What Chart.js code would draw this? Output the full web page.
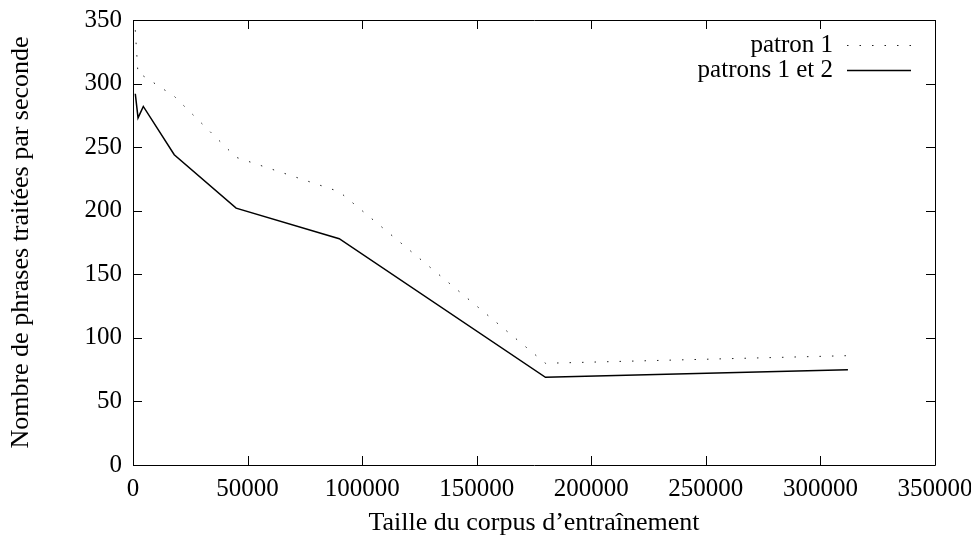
<!DOCTYPE html>
<html>
<head>
<meta charset="utf-8">
<script src="https://cdn.jsdelivr.net/npm/chart.js@4"></script>
<style>
  html, body { margin: 0; padding: 0; background: #fff; }
  #wrap { width: 971px; height: 535px; }
</style>
</head>
<body>
<div id="wrap"><canvas id="myChart" width="971" height="535"></canvas></div>
<script>
// training corpus sizes (x)
var sizes = [1000, 2200, 4500, 18000, 45000, 90000, 180000, 312000];
// sentences per second
var patron1 = [342, 307, 306, 290, 242, 215, 80, 86];
var patrons12 = [292, 273, 282, 244, 202, 178, 69, 75];

var seriesNames = ['patron 1', 'patrons 1 et 2'];
var xTicks = [0, 50000, 100000, 150000, 200000, 250000, 300000, 350000];
var yTicks = [0, 50, 100, 150, 200, 250, 300, 350];

var serif = '"Liberation Serif", "Times New Roman", serif';
var fontSize = 25;
var titleSize = 26;

var toPoints = function (xs, ys) {
    return xs.map(function (x, i) { return { x: x, y: ys[i] }; });
};

// frame with inward tick marks, gnuplot style
var framePlugin = {
    id: 'frame',
    afterDatasetsDraw: function (chart) {
        var ctx = chart.ctx;
        var a = chart.chartArea;
        var xs = chart.scales.x;
        var ys = chart.scales.y;
        var len = 9;
        ctx.save();
        ctx.strokeStyle = '#000';
        ctx.lineWidth = 1;
        ctx.beginPath();
        ctx.rect(Math.round(a.left) + 0.5, Math.round(a.top) + 0.5,
            Math.round(a.right - a.left), Math.round(a.bottom - a.top));
        xTicks.forEach(function (v) {
            var px = Math.round(xs.getPixelForValue(v)) + 0.5;
            ctx.moveTo(px, a.bottom); ctx.lineTo(px, a.bottom - len);
            ctx.moveTo(px, a.top); ctx.lineTo(px, a.top + len);
        });
        yTicks.forEach(function (v) {
            var py = Math.round(ys.getPixelForValue(v)) + 0.5;
            ctx.moveTo(a.left, py); ctx.lineTo(a.left + len, py);
            ctx.moveTo(a.right, py); ctx.lineTo(a.right - len, py);
        });
        ctx.stroke();

        // legend, top right inside the plot
        ctx.font = fontSize + 'px ' + serif;
        ctx.fillStyle = '#000';
        ctx.textAlign = 'right';
        ctx.textBaseline = 'middle';
        chart.data.datasets.forEach(function (ds, i) {
            var y = a.top + 25 + i * 25;
            ctx.fillText(ds.label, a.right - 102, y);
            ctx.beginPath();
            ctx.setLineDash(ds.borderDash || []);
            ctx.lineWidth = ds.borderWidth;
            ctx.strokeStyle = ds.borderColor;
            ctx.moveTo(a.right - 88, Math.round(y) + 0.5);
            ctx.lineTo(a.right - 24, Math.round(y) + 0.5);
            ctx.stroke();
        });
        ctx.restore();
    }
};

var ctx = document.getElementById('myChart').getContext('2d');

var chart = new Chart(ctx, {
    type: 'line',
    data: {
        datasets: [{
            label: seriesNames[0],
            data: toPoints(sizes, patron1),
            borderColor: '#222',
            borderWidth: 1,
            borderDash: [1.5, 11],
            pointRadius: 0,
            fill: false,
            tension: 0
        }, {
            label: seriesNames[1],
            data: toPoints(sizes, patrons12),
            borderColor: '#000',
            borderWidth: 1.5,
            pointRadius: 0,
            fill: false,
            tension: 0
        }]
    },
    options: {
        responsive: false,
        animation: false,
        layout: { padding: { top: 20, right: 36, left: 6, bottom: 0 } },
        plugins: {
            legend: { display: false },
            tooltip: { enabled: false }
        },
        scales: {
            x: {
                type: 'linear',
                min: 0,
                max: 350000,
                afterBuildTicks: function (scale) {
                    scale.ticks = xTicks.map(function (v) { return { value: v }; });
                },
                afterFit: function (scale) {
                    scale.height = 70;
                    scale.paddingLeft = 0;
                    scale.paddingRight = 0;
                },
                border: { display: false },
                grid: { display: false, drawTicks: false },
                ticks: {
                    color: '#000',
                    padding: 9,
                    maxRotation: 0,
                    autoSkip: false,
                    font: { family: serif, size: fontSize },
                    callback: function (v) { return String(v); }
                },
                title: {
                    display: true,
                    text: 'Taille du corpus d\u2019entra\u00eenement',
                    color: '#000',
                    padding: { top: 4, bottom: -4 },
                    font: { family: serif, size: titleSize }
                }
            },
            y: {
                min: 0,
                max: 350,
                afterBuildTicks: function (scale) {
                    scale.ticks = yTicks.map(function (v) { return { value: v }; });
                },
                afterFit: function (scale) {
                    scale.width = 127;
                    scale.paddingTop = 0;
                    scale.paddingBottom = 0;
                },
                border: { display: false },
                grid: { display: false, drawTicks: false },
                ticks: {
                    color: '#000',
                    padding: 11,
                    autoSkip: false,
                    font: { family: serif, size: fontSize }
                },
                title: {
                    display: true,
                    text: 'Nombre de phrases trait\u00e9es par seconde',
                    color: '#000',
                    padding: { top: 0, bottom: 0 },
                    font: { family: serif, size: titleSize }
                }
            }
        }
    },
    plugins: [framePlugin]
});
</script>
</body>
</html>
